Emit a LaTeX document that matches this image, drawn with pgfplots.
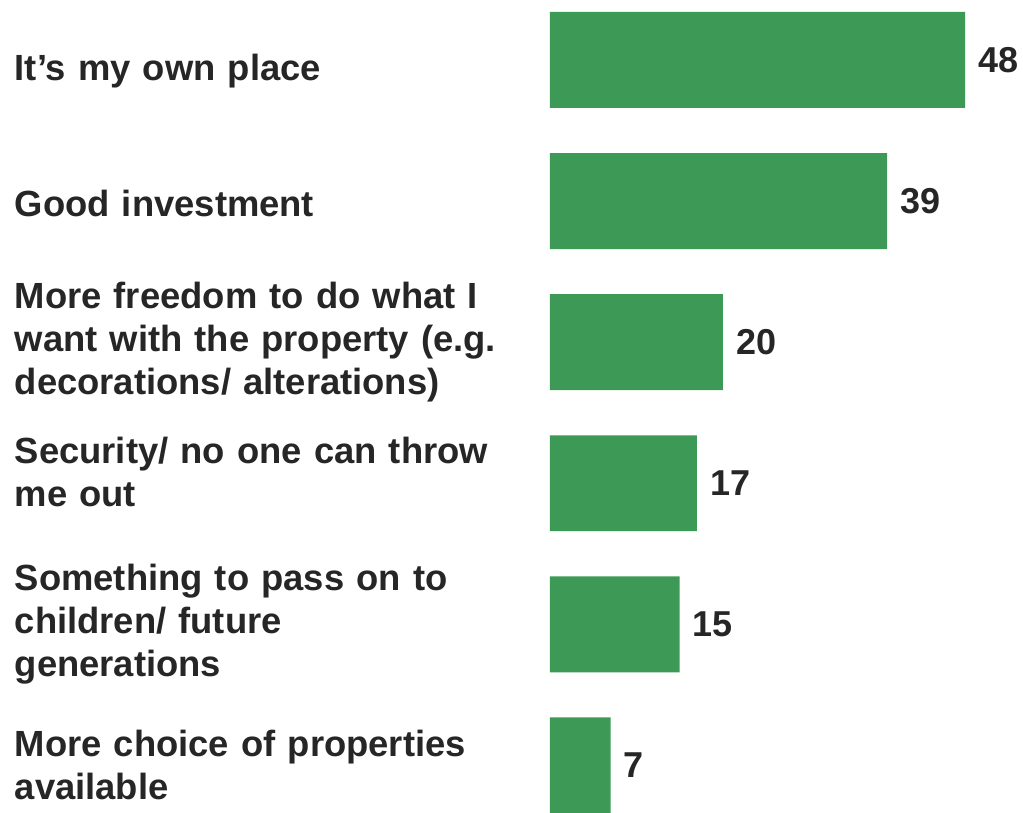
\documentclass[border=0pt]{standalone}
\usepackage{pgfplots}
\pgfplotsset{compat=1.18}
\usepackage{fontspec}
\setmainfont{Liberation Sans}
\definecolor{barg}{RGB}{60,154,86}
\begin{document}
\begin{tikzpicture}
\useasboundingbox (0,0) rectangle (1023pt,813pt);
\begin{axis}[
  at={(550pt,0pt)}, anchor=south west,
  scale only axis, width=415pt, height=801.7pt,
  xbar, xmin=0, xmax=48,
  ymin=-0.337, ymax=5.345,
  bar width=0.68,
  hide x axis,
  y axis line style={draw=none},
  major tick length=0pt,
  ytick={0,1,2,3,4,5},
  yticklabels={
    {More choice of properties\\available},
    {Something to pass on to\\children/ future\\generations},
    {Security/ no one can throw\\me out\endgraf\vspace*{22pt}},
    {More freedom to do what I\\want with the property (e.g.\\decorations/ alterations)},
    {\rule{0pt}{31pt}Good investment},
    {\rule{0pt}{49pt}It’s my own place}
  },
  yticklabel style={font=\bfseries\fontsize{36.4}{43}\selectfont, text width=535pt, align=left, anchor=east, inner sep=0pt, xshift=0pt, text=black!85},
  /pgf/number format/assume math mode=true,
  nodes near coords,
  nodes near coords style={font=\bfseries\fontsize{36}{36}\selectfont, anchor=west, xshift=13pt, inner sep=0pt, text=black!85},
  clip=false,
]
\addplot[fill=barg, draw=none] coordinates {(7,0) (15,1) (17,2) (20,3) (39,4) (48,5)};
\end{axis}
\end{tikzpicture}
\end{document}
